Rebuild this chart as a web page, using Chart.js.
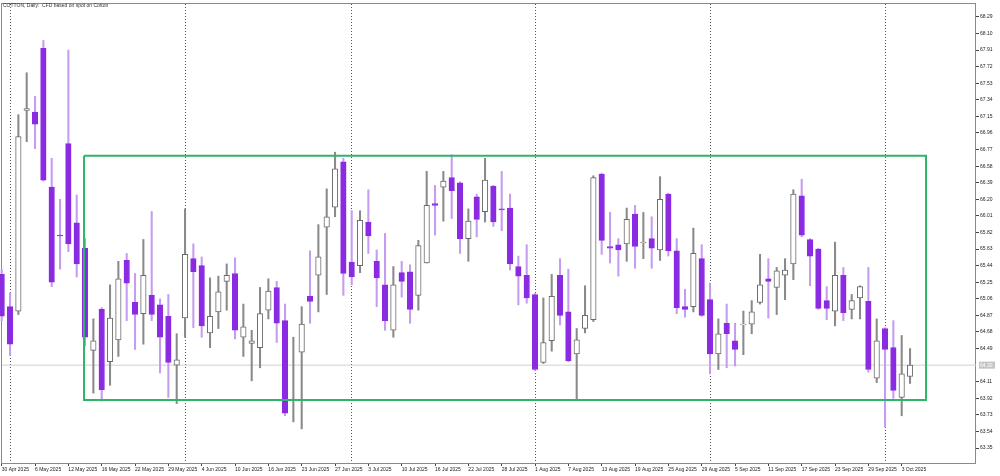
<!DOCTYPE html>
<html>
<head>
<meta charset="utf-8">
<title>COTTON, Daily</title>
<script src="https://cdn.jsdelivr.net/npm/chart.js@4"></script>
<style>
html,body{margin:0;padding:0;background:#fff}
canvas{display:block}
</style>
</head>
<body>
<canvas id="chart" width="1000" height="476"></canvas>
<script>
/* ====================================
   CHART DATA
==================================== */

const chartTitle="COTTON, Daily:  CFD based on spot on Cotton"

// daily candles, one entry per trading day (30 Apr 2025 ... 6 Oct 2025)
const opens=[65.34,64.97,64.92,67.22,67.20,67.93,66.34,65.79,66.84,65.93,
65.64,64.47,64.94,64.34,64.59,65.50,65.02,64.89,65.10,64.99,
64.86,64.30,64.84,65.52,65.44,64.67,64.91,65.26,65.35,64.62,
64.55,64.50,64.93,65.19,64.81,63.90,64.45,65.09,65.33,65.88,
66.11,66.63,65.48,65.44,65.94,65.49,65.22,64.70,65.36,65.37,
65.10,65.47,66.15,66.34,66.45,66.39,65.75,66.23,66.06,66.35,
66.09,66.10,65.43,65.33,65.11,64.33,64.58,65.33,64.91,64.43,
64.72,64.82,66.49,65.66,65.68,65.69,66.03,65.70,65.75,65.62,
66.26,65.61,64.97,64.97,65.52,65.05,64.43,64.78,64.58,64.76,
64.77,65.02,65.29,65.19,65.33,65.46,66.24,65.74,65.63,65.04,
64.92,65.33,64.94,65.07,65.03,64.15,64.72,64.50,63.93,64.17]

const highs=[65.40,65.13,67.17,67.65,67.38,68.02,66.67,66.20,67.91,66.25,
65.75,64.83,64.96,65.22,65.49,65.58,65.35,65.74,66.06,65.06,
65.11,64.66,66.09,65.69,65.54,65.30,65.32,65.46,65.53,65.00,
64.70,65.19,65.29,65.26,65.00,64.62,64.97,65.61,65.91,66.32,
66.74,66.67,66.07,66.07,66.31,65.62,65.81,65.43,65.49,65.45,
65.73,66.52,66.36,66.52,66.71,66.40,66.09,66.26,66.67,66.36,
66.52,66.26,65.55,65.68,65.12,65.07,65.34,65.52,65.40,64.72,
65.21,66.47,66.50,66.05,65.75,66.10,66.13,66.05,66.00,66.46,
66.27,65.75,65.17,65.87,65.68,65.24,64.83,65.00,64.78,64.92,
65.04,65.57,65.52,65.42,65.52,66.31,66.43,65.75,65.64,65.20,
65.71,65.42,65.11,65.21,65.42,64.83,64.73,64.81,64.64,64.49]

const lows=[64.81,64.41,64.88,66.86,66.78,66.41,65.20,65.40,65.60,65.31,
64.52,63.98,63.89,64.07,64.40,64.81,64.48,64.54,64.81,64.21,
63.93,63.86,64.62,64.73,64.62,64.50,64.72,64.93,64.60,64.40,
64.12,64.27,64.83,64.56,63.72,63.65,63.57,64.78,64.91,65.11,
66.00,65.10,65.22,65.36,65.58,64.97,64.70,64.62,65.08,64.78,
64.93,65.47,65.79,65.95,65.98,65.58,65.49,65.77,65.94,65.89,
65.84,65.39,64.99,65.01,64.24,64.32,64.46,64.76,64.34,63.90,
64.67,64.80,65.57,65.47,65.32,65.49,65.41,65.52,65.41,65.50,
65.55,64.89,64.85,64.91,64.86,64.20,64.25,64.27,64.29,64.42,
64.66,65.00,64.84,64.88,65.05,65.28,65.77,65.21,64.94,64.82,
64.75,64.81,64.83,64.83,64.22,64.10,63.59,63.92,63.72,64.09]

const closes=[64.86,64.54,66.92,67.24,67.06,66.42,65.25,65.78,65.69,65.46,
64.62,64.58,64.02,64.84,65.29,65.24,64.88,65.33,64.88,64.62,
64.33,64.36,65.57,65.37,64.75,64.86,65.14,65.33,64.70,64.74,
64.58,64.89,65.15,64.78,63.75,63.91,64.77,65.03,65.54,66.00,
66.55,65.35,65.31,65.96,65.78,65.30,64.81,65.22,65.26,64.94,
65.67,66.13,66.13,66.41,66.30,65.75,65.95,65.97,66.42,65.94,
66.08,65.46,65.32,65.07,64.25,64.56,65.09,64.87,64.35,64.59,
64.87,66.45,65.73,65.64,65.62,65.97,65.66,65.71,65.64,66.20,
65.61,64.96,64.94,65.58,64.87,64.43,64.66,64.66,64.48,64.77,
64.91,65.22,65.26,65.38,65.39,66.26,65.79,65.55,64.95,64.95,
65.33,64.90,65.04,65.20,64.25,64.58,64.48,64.01,64.20,64.30]

// date labels, one every 4 bars
const dateLabels=["30 Apr 2025","6 May 2025","12 May 2025","16 May 2025","22 May 2025",
"29 May 2025","4 Jun 2025","10 Jun 2025","16 Jun 2025","23 Jun 2025","27 Jun 2025",
"3 Jul 2025","10 Jul 2025","16 Jul 2025","22 Jul 2025","28 Jul 2025","1 Aug 2025",
"7 Aug 2025","13 Aug 2025","19 Aug 2025","25 Aug 2025","29 Aug 2025","5 Sep 2025",
"11 Sep 2025","17 Sep 2025","23 Sep 2025","29 Sep 2025","3 Oct 2025"]
const dateStep=4

// first bar of each month (period separators)
const monthStarts=[1,22,42,64,85,106]

// price scale labels
const priceTicks=[68.29,68.10,67.91,67.72,67.53,67.34,67.15,66.96,66.77,66.58,
66.39,66.20,66.01,65.82,65.63,65.44,65.25,65.06,64.87,64.68,64.49,
64.11,63.92,63.73,63.54,63.35]

// range rectangle (bar index span and price span)
const boxBars=[9.88,110.92]
const boxPrices=[66.70,63.90]


/* ====================================
   BUILD DATASETS
==================================== */

const idx=closes.map((c,i)=>i)
const up=closes.map((c,i)=>c>=opens[i])
const lastPrice=closes[closes.length-1]

const xMin=0.036
const xMax=116.916

const wickData=idx.map(i=>({x:i,y:[lows[i],highs[i]]}))
const bodyData=idx.map(i=>({x:i,y:[Math.min(opens[i],closes[i]),Math.max(opens[i],closes[i])]}))

const boxData=[
{x:boxBars[0],y:boxPrices[0]},
{x:boxBars[1],y:boxPrices[0]},
{x:boxBars[1],y:boxPrices[1]},
{x:boxBars[0],y:boxPrices[1]},
{x:boxBars[0],y:boxPrices[0]}
]

const priceLine=[{x:xMin,y:lastPrice},{x:xMax,y:lastPrice}]


/* ====================================
   FRAME, TITLE AND PRICE LABEL
==================================== */

const mtPlugin={
id:"mt",
beforeDatasetsDraw(chart){
const a=chart.chartArea
const ctx=chart.ctx
ctx.save()
ctx.strokeStyle="#8a8a8a"
ctx.lineWidth=1
ctx.strokeRect(a.left-0.5,a.top-0.5,a.right-a.left,a.bottom-a.top+1)
ctx.restore()
},
afterDraw(chart){
const a=chart.chartArea
const ctx=chart.ctx
ctx.save()
// title
ctx.fillStyle="#333"
ctx.font='5px "Liberation Sans"'
ctx.textBaseline="middle"
ctx.textAlign="left"
ctx.fillText(chartTitle,3,5.5)
// current price box
const y=chart.scales.y.getPixelForValue(lastPrice)
ctx.fillStyle="#c4c4c4"
ctx.fillRect(a.right+3,y-3.5,16,7)
ctx.fillStyle="#fff"
ctx.fillText(lastPrice.toFixed(2),a.right+4,y+0.3)
ctx.restore()
}
}


/* ====================================
   DRAW CHART
==================================== */

Chart.defaults.font.family='"Liberation Sans", Arial, sans-serif'
Chart.defaults.font.size=5
Chart.defaults.color="#222"

new Chart(document.getElementById("chart"),{

type:"bar",

data:{
datasets:[
{
type:"line",
data:boxData,
borderColor:"#2fb56a",
borderWidth:2,
pointRadius:0,
tension:0,
fill:false,
order:0
},
{
type:"bar",
data:bodyData,
backgroundColor:up.map(u=>u?"#ffffff":"#8a2be2"),
borderColor:up.map(u=>u?"#6a6a6a":"#8a2be2"),
borderWidth:1,
borderSkipped:false,
barThickness:5.5,
grouped:false,
clip:false,
order:1
},
{
type:"bar",
data:wickData,
backgroundColor:up.map(u=>u?"#8a8a8a":"#c49cf0"),
borderWidth:0,
barThickness:1.4,
grouped:false,
clip:false,
order:2
},
{
type:"line",
data:priceLine,
borderColor:"#d0d0d0",
borderWidth:1,
pointRadius:0,
fill:false,
order:3
}
]
},

options:{
responsive:false,
animation:false,
devicePixelRatio:1,
layout:{padding:{left:2,top:1,right:0,bottom:0}},
plugins:{
legend:{display:false},
tooltip:{enabled:false}
},
scales:{
x:{
type:"linear",
position:"bottom",
min:xMin,
max:xMax,
offset:false,
grid:{offset:false,drawOnChartArea:false,drawTicks:true,tickLength:3,tickColor:"#444"},
border:{display:false},
ticks:{
autoSkip:false,
maxRotation:0,
minRotation:0,
align:"start",
padding:1,
color:"#222",
callback:(v)=>dateLabels[Math.round(v/dateStep)]
},
afterBuildTicks:(s)=>{s.ticks=dateLabels.map((d,i)=>({value:i*dateStep}))},
afterFit:(s)=>{s.height=13}
},
sep:{
type:"linear",
position:"top",
min:xMin,
max:xMax,
offset:false,
grid:{offset:false,drawOnChartArea:true,drawTicks:false,color:"#555",lineWidth:1},
border:{display:false,dash:[1,2]},
ticks:{display:false},
afterBuildTicks:(s)=>{s.ticks=monthStarts.map(v=>({value:v}))},
afterFit:(s)=>{s.height=0}
},
y:{
type:"linear",
position:"right",
min:63.179,
max:68.438,
beginAtZero:false,
grid:{drawOnChartArea:false,drawTicks:true,tickLength:3,tickColor:"#444"},
border:{display:false},
ticks:{
padding:1,
color:"#222",
callback:(v)=>v.toFixed(2)
},
afterBuildTicks:(s)=>{s.ticks=priceTicks.map(v=>({value:v}))},
afterFit:(s)=>{s.width=24}
}
}
},

plugins:[mtPlugin]

})
</script>
</body>
</html>
